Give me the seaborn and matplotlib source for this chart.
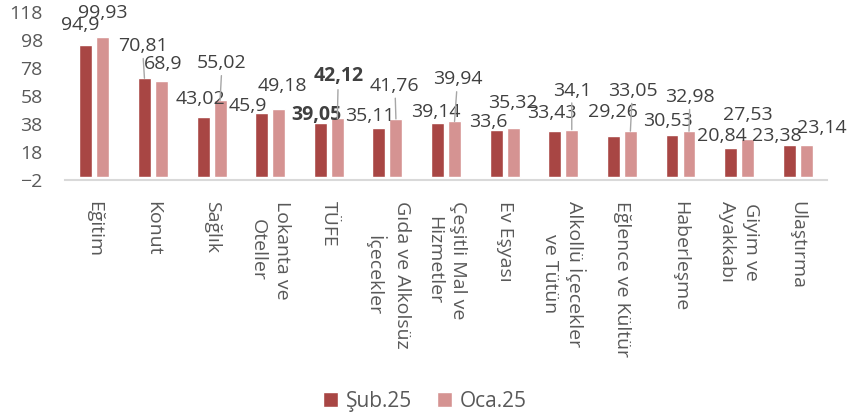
import pandas as pd
import numpy as np
import matplotlib
matplotlib.use("Agg")
import matplotlib.pyplot as plt
import seaborn as sns

# veriler
kategoriler = ["Eğitim", "Konut", "Sağlık", "Lokanta ve\nOteller", "TÜFE",
               "Gıda ve Alkolsüz\nİçecekler", "Çeşitli Mal ve\nHizmetler", "Ev Eşyası",
               "Alkollü İçecekler\nve Tütün", "Eğlence ve Kültür", "Haberleşme",
               "Giyim ve\nAyakkabı", "Ulaştırma"]
sub25 = [94.9, 70.81, 43.02, 45.9, 39.05, 35.11, 39.14, 33.6, 33.43, 29.26, 30.53, 20.84, 23.38]
oca25 = [99.93, 68.9, 55.02, 49.18, 42.12, 41.76, 39.94, 35.32, 34.1, 33.05, 32.98, 27.53, 23.14]
donemler = ["Şub.25", "Oca.25"]

# etiket kaydırmaları (piksel), Excel'deki gibi
ofs_sub = [(-6, 20), (-2, 32), (-3, 18), (-14, 7), (-4, 8), (-9, 12), (-2, 11),
           (-8, 8), (-3, 18), (0, 24), (-4, 14), (-9, 12), (-12, 9)]
ofs_oca = [(0, 24), (2, 17), (2, 37), (4, 23), (1, 42), (-1, 33), (3, 42),
           (0, 25), (0, 39), (2, 40), (1, 34), (0, 24), (16, 17)]

renkler = {"Şub.25": "#A84644", "Oca.25": "#D59392"}

df = pd.DataFrame({
    "kategori": kategoriler * 2,
    "deger": sub25 + oca25,
    "donem": [donemler[0]] * len(kategoriler) + [donemler[1]] * len(kategoriler),
})

sns.set_style("white")
plt.rcParams['font.family'] = ['Open Sans', 'DejaVu Sans']

fig, ax = plt.subplots(figsize=(8.5, 4.2), dpi=100)
fig.subplots_adjust(left=0.0765, right=0.973, bottom=0.571, top=0.971)

sns.barplot(data=df, x="kategori", y="deger", hue="donem", order=kategoriler,
            hue_order=donemler, palette=renkler, width=0.58, gap=0.24,
            saturation=1, ax=ax, legend=True)

ax.set_ylim(-2, 118)
ax.set_xlim(-0.5, len(kategoriler) - 0.5)
ax.set_yticks(np.arange(-2, 119, 20))
ax.tick_params(axis="y", labelsize=14, labelcolor="#595959", length=0, pad=16)
ax.tick_params(axis="x", labelsize=14, labelcolor="#595959", length=0, pad=15)
ax.set_xticks(range(len(kategoriler)))
ax.set_xticklabels(kategoriler, rotation=-90, ha="center", va="top",
                   multialignment="center", linespacing=1.45)
ax.set_xlabel("")
ax.set_ylabel("")
for s in ["top", "right", "left"]:
    ax.spines[s].set_visible(False)
ax.spines["bottom"].set_color("#D9D9D9")
ax.spines["bottom"].set_linewidth(1.5)

# veri etiketleri
for cont, ofs in zip(ax.containers, [ofs_sub, ofs_oca]):
    for i, bar in enumerate(cont):
        v = bar.get_height()
        x = bar.get_x() + bar.get_width() / 2
        dx, dy = ofs[i]
        metin = f"{v:g}".replace(".", ",")
        kalin = "bold" if kategoriler[i] == "TÜFE" else "normal"
        ok = dict(arrowstyle="-", color="#A6A6A6", lw=1, shrinkA=0, shrinkB=0) if dy >= 30 else None
        ax.annotate(metin, xy=(x, v), xytext=(dx, dy), textcoords="offset pixels",
                    ha="center", va="center", fontsize=14, color="#404040",
                    fontweight=kalin, annotation_clip=False, arrowprops=ok)

ax.get_legend().remove()
h, l = ax.get_legend_handles_labels()
fig.legend(h, l, loc="lower center", bbox_to_anchor=(0.5, -0.025), ncol=2,
           frameon=False, fontsize=15, handlelength=0.7, handleheight=0.7,
           handletextpad=0.4, columnspacing=1.2, labelcolor="#595959")

fig.savefig("out.png", dpi=100)
